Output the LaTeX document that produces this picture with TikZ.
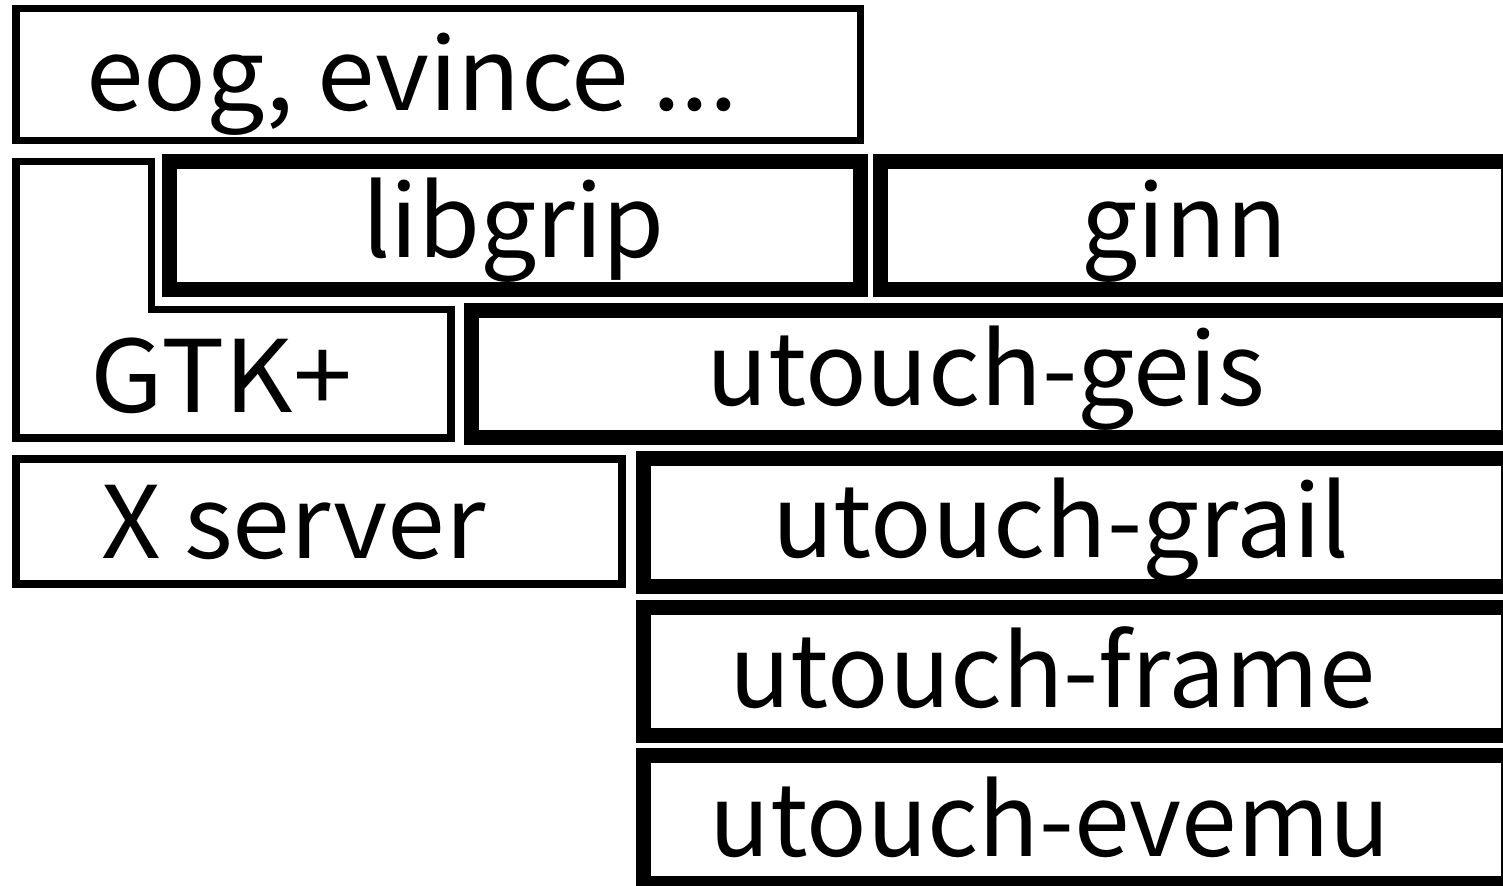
\documentclass[tikz,border=0pt]{standalone}
\usepackage{fontspec}
\setmainfont{Noto Sans CJK JP}
\begin{document}
\begin{tikzpicture}[x=0.5pt,y=-0.5pt,
  thinbox/.style={draw=black,line width=3.75pt},
  thickbox/.style={draw=black,line width=7.5pt},
  lbl/.style={anchor=base west,inner sep=0pt,font=\fontsize{50}{60}\selectfont}]
\useasboundingbox (0,0) rectangle (1503,885);
\clip (0,0) rectangle (1503,885);
% thin boxes
\draw[thinbox] (16,8.5) rectangle (860.5,140.5);
\draw[thinbox] (16,161.5) -- (151.5,161.5) -- (151.5,309.5) -- (451,309.5) -- (451,438) -- (16,438) -- cycle;
\draw[thinbox] (16,459) rectangle (622,584);
% thick boxes
\draw[thickbox] (169.5,161.5) rectangle (860.5,289.5);
\draw[thickbox] (880.5,161.5) rectangle (1508.5,289.5);
\draw[thickbox] (471.5,310.5) rectangle (1508.5,437.5);
\draw[thickbox] (643.5,458.5) rectangle (1508.5,586.5);
\draw[thickbox] (643.5,607.5) rectangle (1508.5,735);
\draw[thickbox] (643.5,755.5) rectangle (1508.5,883.5);
% labels
\node[lbl,xscale=1.037] (eog) at (86,110) {eog, evince ...};
\node[lbl] (libgrip) at (362,257) {libgrip};
\node[lbl] (ginn) at (1081,257) {ginn};
\node[lbl,xscale=1.06] (gtk) at (90,412) {GTK+};
\node[lbl,xscale=1.04] (xserver) at (101,558) {X server};
\node[lbl,xscale=1.018] (geis) at (706,405) {utouch-geis};
\node[lbl,xscale=1.014] (grail) at (772,557) {utouch-grail};
\node[lbl,xscale=1.013] (frame) at (729,707) {utouch-frame};
\node[lbl] (evemu) at (709,856) {utouch-evemu};
\end{tikzpicture}
\end{document}
